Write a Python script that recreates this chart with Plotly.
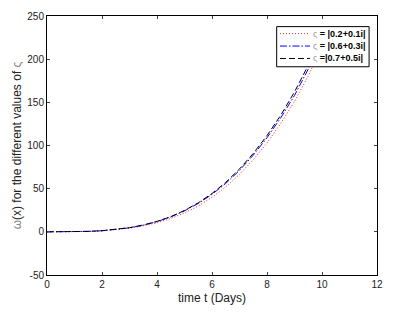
import plotly.graph_objects as go

t = [0, 0.5, 1, 1.5, 2, 2.5, 3, 3.5, 4, 4.5, 5, 5.5, 6, 6.5, 7, 7.5, 8, 8.5, 9, 9.5, 10, 10.15]
omega_a = [0, 0.02, 0.12, 0.45, 1.1, 2.3, 4.2, 6.9, 10.5, 15.4, 21.9, 29.9, 40, 52, 66.6, 83.5, 103, 125.5, 151, 180.5, 214, 225]
omega_b = [0, 0.02, 0.14, 0.52, 1.27, 2.65, 4.7, 7.7, 11.9, 17.2, 24.3, 32.9, 43.4, 56.1, 71.2, 88.8, 109, 132, 158, 188.5, 222.5, 233]
omega_c = [0, 0.02, 0.14, 0.53, 1.3, 2.7, 4.8, 7.9, 12.1, 17.6, 24.8, 33.6, 44.4, 57.3, 72.8, 90.8, 111.5, 135, 162, 193, 228, 236]

x_ticks = [0, 2, 4, 6, 8, 10, 12]
y_ticks = [-50, 0, 50, 100, 150, 200, 250]
y_tick_labels = ["-50", "0", "50", "100", "150", "200", "250"]

labels = ["|0.2+0.1i|", "|0.6+0.3i|", "|0.7+0.5i|"]
eq_signs = [" = ", " = ", " ="]
colors = ["#ff2020", "#0000ff", "#000000"]
dashes = ["1px,2px", "7px,2px,1.5px,2px", "6px,3px"]
series = [omega_a, omega_b, omega_c]

fig = go.Figure()
for vals, lab, col, dsh in zip(series, labels, colors, dashes):
    fig.add_trace(go.Scatter(x=t, y=vals, mode="lines", name="ς = " + lab,
                             showlegend=False, hoverinfo="skip",
                             line=dict(color=col, dash=dsh, width=1)))

# manual legend (compact, MATLAB style)
row_y = [0.932, 0.884, 0.836]
fig.add_shape(type="rect", xref="x domain", yref="y domain",
              x0=0.696, x1=0.976, y0=0.804, y1=0.959,
              line=dict(color="black", width=1), fillcolor="white", layer="above")
for ry, lab, eq, col, dsh in zip(row_y, labels, eq_signs, colors, dashes):
    fig.add_shape(type="line", xref="x domain", yref="y domain",
                  x0=0.706, x1=0.797, y0=ry, y1=ry, layer="above",
                  line=dict(color=col, dash=dsh, width=1))
    fig.add_annotation(xref="x domain", yref="y domain", x=0.800, y=ry,
                       xanchor="left", yanchor="middle", showarrow=False,
                       text="<span style='color:#999'>ς</span><b>" + eq + lab + "</b>",
                       font=dict(family="Liberation Sans, Arial, sans-serif", size=9, color="black"))

font = dict(family="Liberation Sans, Arial, sans-serif", size=10, color="#222")
fig.update_layout(
    width=400, height=313,
    margin=dict(l=47, r=23, t=16, b=38, autoexpand=False),
    paper_bgcolor="white", plot_bgcolor="white",
    font=font, showlegend=False,
    xaxis=dict(range=[0, 12], tickvals=x_ticks, automargin=False,
               ticks="inside", ticklen=3, tickcolor="#444", showgrid=False, zeroline=False,
               showline=True, linecolor="black", linewidth=1, mirror="ticks",
               title=dict(text="time t (Days)", standoff=4)),
    yaxis=dict(range=[-50, 250], tickvals=y_ticks, ticktext=y_tick_labels, automargin=False,
               ticks="inside", ticklen=3, tickcolor="#444", showgrid=False, zeroline=False,
               showline=True, linecolor="black", linewidth=1, mirror="ticks",
               title=dict(text="<span style='color:#888'>ω</span>(x) for the different values of <span style='color:#888'>ς</span>", standoff=3)),
)

fig.write_html("out.html", config={"displayModeBar": False},
               post_script="document.body.style.margin='0';")
